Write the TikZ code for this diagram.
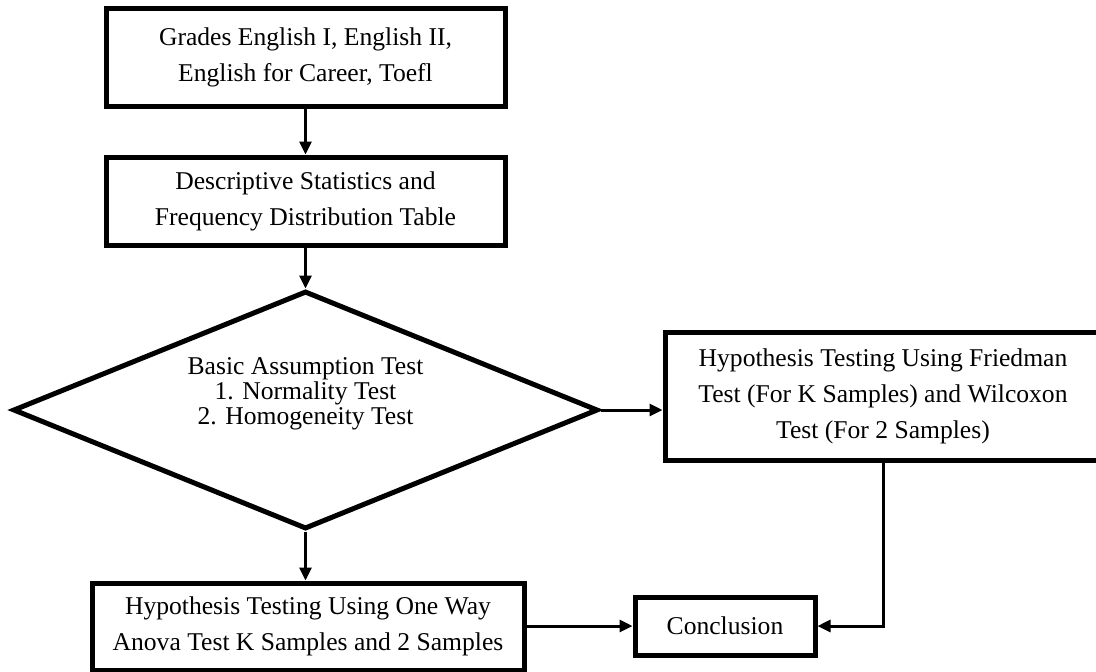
\documentclass[tikz,border=0pt]{standalone}
\usepackage{fontspec}
\setmainfont{Liberation Serif}
\usepackage{tikz}
\usetikzlibrary{arrows.meta, calc, positioning, shapes.geometric}

\begin{document}
\begin{tikzpicture}[
  x=0.5pt, y=-0.5pt,
  box/.style={draw=black, line width=2.5pt, align=center, inner sep=0pt,
              font=\fontsize{12.8pt}{18pt}\selectfont},
  decide/.style={draw=black, diamond, line width=2.5pt, inner sep=0pt,
                 minimum width=292.5pt, minimum height=119pt},
  arr/.style={-{Triangle[length=6.5pt, width=6pt]}, line width=1.5pt, black},
]
\useasboundingbox (0,0) rectangle (1096,671);
\clip (0,0) rectangle (1096,671);
\node[box, minimum width=199.5pt, minimum height=49pt] (grades) at (305.5,57)
  {Grades English I, English II,\\English for Career, Toefl};
\node[box, minimum width=199.5pt, minimum height=44pt] (desc) at (305.5,201)
  {Descriptive Statistics and\\Frequency Distribution Table};
\node[decide] (assume) at (305.5,410) {};
\node[align=center, inner sep=0pt, font=\fontsize{12.8pt}{12.5pt}\selectfont]
  (assumetxt) at (305.5,394)
  {Basic Assumption Test\\1. Normality Test\\2. Homogeneity Test};
\node[box, minimum width=218pt, minimum height=64pt] (friedman) at (883,396)
  {Hypothesis Testing Using Friedman\\Test (For K Samples) and Wilcoxon\\Test (For 2 Samples)};
\node[box, minimum width=216pt, minimum height=43.5pt] (anova) at (308,626.5)
  {Hypothesis Testing Using One Way\\Anova Test K Samples and 2 Samples};
\node[box, minimum width=90pt, minimum height=29pt] (concl) at (725,626)
  {Conclusion};
\draw[arr] (grades) -- (desc);
\draw[arr] (desc) -- (assume);
\draw[arr] (assume.south) -- (assume.south |- anova.north);
\draw[arr] (assume.east) -- (assume.east -| friedman.west);
\draw[arr] (anova.east |- concl.west) -- (concl.west);
\draw[arr] (friedman.south) |- (concl.east);
\end{tikzpicture}
\end{document}
